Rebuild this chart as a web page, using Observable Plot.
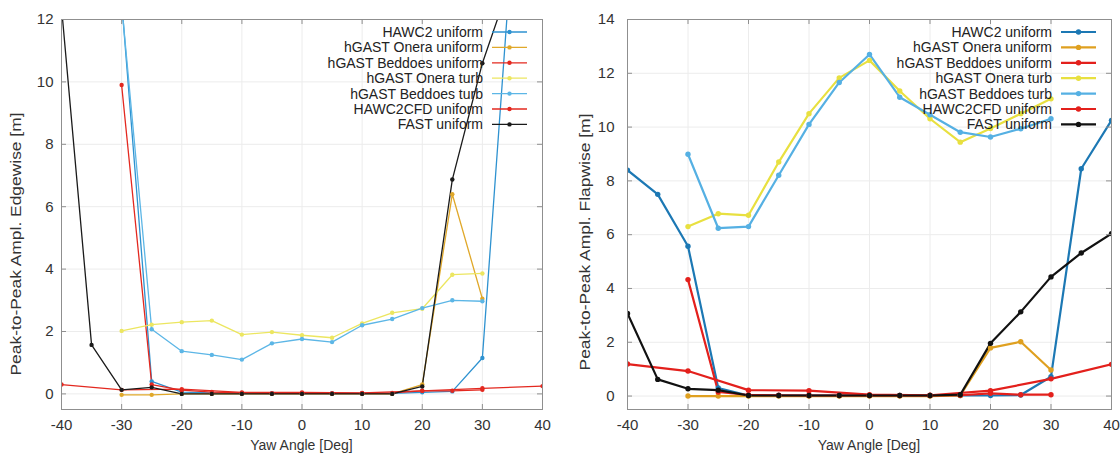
<!DOCTYPE html>
<html><head><meta charset="utf-8">
<script src="https://cdn.jsdelivr.net/npm/d3@7"></script>
<script src="https://cdn.jsdelivr.net/npm/@observablehq/plot@0.6"></script>
<style>
body{margin:0;background:#fff;font-family:"Liberation Sans",Arial,sans-serif;}
#wrap{display:flex;width:1120px;height:454px;overflow:hidden;background:#fff}
</style></head><body><div id="wrap"></div>
<script>
// Yaw angles (deg)
const yaw = [-40,-35,-30,-25,-20,-15,-10,-5,0,5,10,15,20,25,30,35,40];
const xTicks = [-40,-30,-20,-10,0,10,20,30,40];
const names = ["HAWC2 uniform","hGAST Onera uniform","hGAST Beddoes uniform","hGAST Onera turb","hGAST Beddoes turb","HAWC2CFD uniform","FAST uniform"];

// Edgewise panel (left)
const edgeTicks = [0,2,4,6,8,10,12];
const edgeHAWC2      = [null,null,12.6,0.4,0.06,0.03,0.02,0.02,0.02,0.02,0.02,0.02,0.05,0.08,1.15,14.5,null];
const edgeOneraUni   = [null,null,-0.03,-0.03,0,0,0,0,0,0,0,0,0.3,6.4,3.05,null,null];
const edgeBeddoesUni = [null,null,9.9,0.3,0.12,0.06,0.03,0.02,0.02,0.02,0.02,0.03,0.1,0.1,0.13,null,null];
const edgeOneraTurb  = [null,null,2.02,2.22,2.3,2.35,1.9,1.98,1.88,1.8,2.26,2.6,2.73,3.82,3.86,null,null];
const edgeBeddoesTurb= [null,null,12.5,2.07,1.37,1.25,1.1,1.62,1.76,1.66,2.2,2.4,2.75,3.0,2.97,null,null];
const edgeCFD        = [0.3,null,0.13,null,0.15,null,0.05,null,0.05,null,0.03,null,0.1,null,0.18,null,0.25];
const edgeFAST       = [12.4,1.57,0.13,0.21,0,0,0,0,0,0,0,0,0.24,6.87,10.6,13.4,null];

// Flapwise panel (right)
const flapTicks = [0,2,4,6,8,10,12,14];
const flapHAWC2      = [8.4,7.5,5.57,0.3,0.02,0.02,0.02,0.02,0.02,0.02,0.02,0.02,0.02,0.04,0.72,8.45,10.25];
const flapOneraUni   = [null,null,0,0,0,0,0,0,0,0,0,0.02,1.79,2.02,0.97,null,null];
const flapBeddoesUni = [null,null,4.33,0.15,0.04,0.03,0.02,0.02,0.02,0.02,0.02,0.03,0.1,0.05,0.05,null,null];
const flapOneraTurb  = [null,null,6.3,6.78,6.72,8.7,10.5,11.83,12.48,11.34,10.31,9.44,9.95,10.5,11.05,null,null];
const flapBeddoesTurb= [null,null,8.99,6.24,6.3,8.21,10.1,11.66,12.7,11.11,10.46,9.81,9.63,9.94,10.31,null,null];
const flapCFD        = [1.19,null,0.93,null,0.22,null,0.2,null,0.05,null,0.03,null,0.2,null,0.64,null,1.18];
const flapFAST       = [3.07,0.62,0.27,0.22,0.02,0.02,0.02,0.02,0.02,0.02,0.02,0.05,1.96,3.13,4.43,5.32,6.04];

const leftColors  = ["#2e92d0","#e0a82a","#e3281f","#ece660","#5cb6e6","#e3281f","#1a1a1a"];
const rightColors = ["#1c78b4","#dfa020","#e3201c","#e8e040","#55b0e3","#e3201c","#111111"];

function panel(cfg) {
  const W = 560, H = 454, mt = 19, mb = 45;
  const fw = W - cfg.ml - cfg.mr, fh = H - mt - mb;
  const rows = [];
  cfg.series.forEach((vals, k) => vals.forEach((v, i) => {
    if (v != null) rows.push({name: names[k], x: yaw[i], y: v});
  }));
  const frameCol = "#8f8f8f";
  const plot = Plot.plot({
    width: W, height: H,
    marginLeft: cfg.ml, marginRight: cfg.mr, marginTop: mt, marginBottom: mb,
    style: {fontFamily: "'Liberation Sans', Arial, sans-serif", fontSize: "15px", color: "#333", background: "white", overflow: "visible"},
    x: {domain: [-40, 40], label: null},
    y: {domain: cfg.yDomain, label: null},
    color: {domain: names, range: cfg.colors},
    marks: [
      Plot.gridX(xTicks, {stroke: "#ececec", strokeOpacity: 1}),
      Plot.gridY(cfg.yTicks, {stroke: "#ececec", strokeOpacity: 1}),
      Plot.line(rows, {x: "x", y: "y", z: "name", stroke: "name", strokeWidth: cfg.lw, clip: true}),
      Plot.dot(rows, {x: "x", y: "y", fill: "name", r: cfg.r, clip: true}),
      Plot.frame({stroke: frameCol}),
      Plot.tickX(xTicks, {x: d => d, stroke: frameCol, insetTop: fh - 5}),
      Plot.tickX(xTicks, {x: d => d, stroke: frameCol, insetBottom: fh - 5}),
      Plot.tickY(cfg.yTicks, {y: d => d, stroke: frameCol, insetRight: fw - 5}),
      Plot.tickY(cfg.yTicks, {y: d => d, stroke: frameCol, insetLeft: fw - 5}),
      Plot.axisX(xTicks, {tickSize: 0, tickPadding: 10, tickFormat: d => String(d), fill: "#333", label: null}),
      Plot.axisY(cfg.yTicks, {tickSize: 0, tickPadding: cfg.ypad, tickFormat: d => String(d), fill: "#333", label: null})
    ]
  });
  const svg = d3.select(plot);
  // axis titles
  svg.append("text")
    .attr("x", cfg.ml + fw / 2).attr("y", 445).attr("dy", "0.35em")
    .attr("text-anchor", "middle").attr("fill", "#333").attr("font-size", 14)
    .text("Yaw Angle [Deg]");
  svg.append("text")
    .attr("transform", `translate(${cfg.ylabelX},${cfg.ylabelY}) rotate(-90)`)
    .attr("text-anchor", "middle").attr("dy", "0.35em").attr("fill", "#333").attr("font-size", 14)
    .attr("textLength", cfg.ylabelLen).attr("lengthAdjust", "spacingAndGlyphs")
    .text(cfg.ylabel);
  // legend
  const g = svg.append("g").attr("font-size", 14).attr("fill", "#222");
  names.forEach((n, i) => {
    const y = 32 + i * 15.4;
    g.append("text").attr("x", cfg.legText).attr("y", y).attr("dy", "0.36em")
      .attr("text-anchor", "end").text(n);
    g.append("line").attr("x1", cfg.legText + 9).attr("x2", cfg.legText + 44)
      .attr("y1", y).attr("y2", y).attr("stroke", cfg.colors[i]).attr("stroke-width", cfg.lw);
    g.append("circle").attr("cx", cfg.legText + 26.5).attr("cy", y).attr("r", cfg.r).attr("fill", cfg.colors[i]);
  });
  return plot;
}

const wrap = document.getElementById("wrap");
wrap.appendChild(panel({
  series: [edgeHAWC2, edgeOneraUni, edgeBeddoesUni, edgeOneraTurb, edgeBeddoesTurb, edgeCFD, edgeFAST],
  yDomain: [-0.5, 12], yTicks: edgeTicks, colors: leftColors,
  ml: 61, mr: 18, lw: 1.3, r: 2.2, ypad: 8,
  ylabel: "Peak-to-Peak Ampl. Edgewise [m]", ylabelX: 16, ylabelY: 244, ylabelLen: 263,
  legText: 483
}));
wrap.appendChild(panel({
  series: [flapHAWC2, flapOneraUni, flapBeddoesUni, flapOneraTurb, flapBeddoesTurb, flapCFD, flapFAST],
  yDomain: [-0.5, 14], yTicks: flapTicks, colors: rightColors,
  ml: 67, mr: 9, lw: 2.2, r: 2.7, ypad: 13,
  ylabel: "Peak-to-Peak Ampl. Flapwise [m]", ylabelX: 25, ylabelY: 242, ylabelLen: 257,
  legText: 492
}));
</script>
</body></html>
